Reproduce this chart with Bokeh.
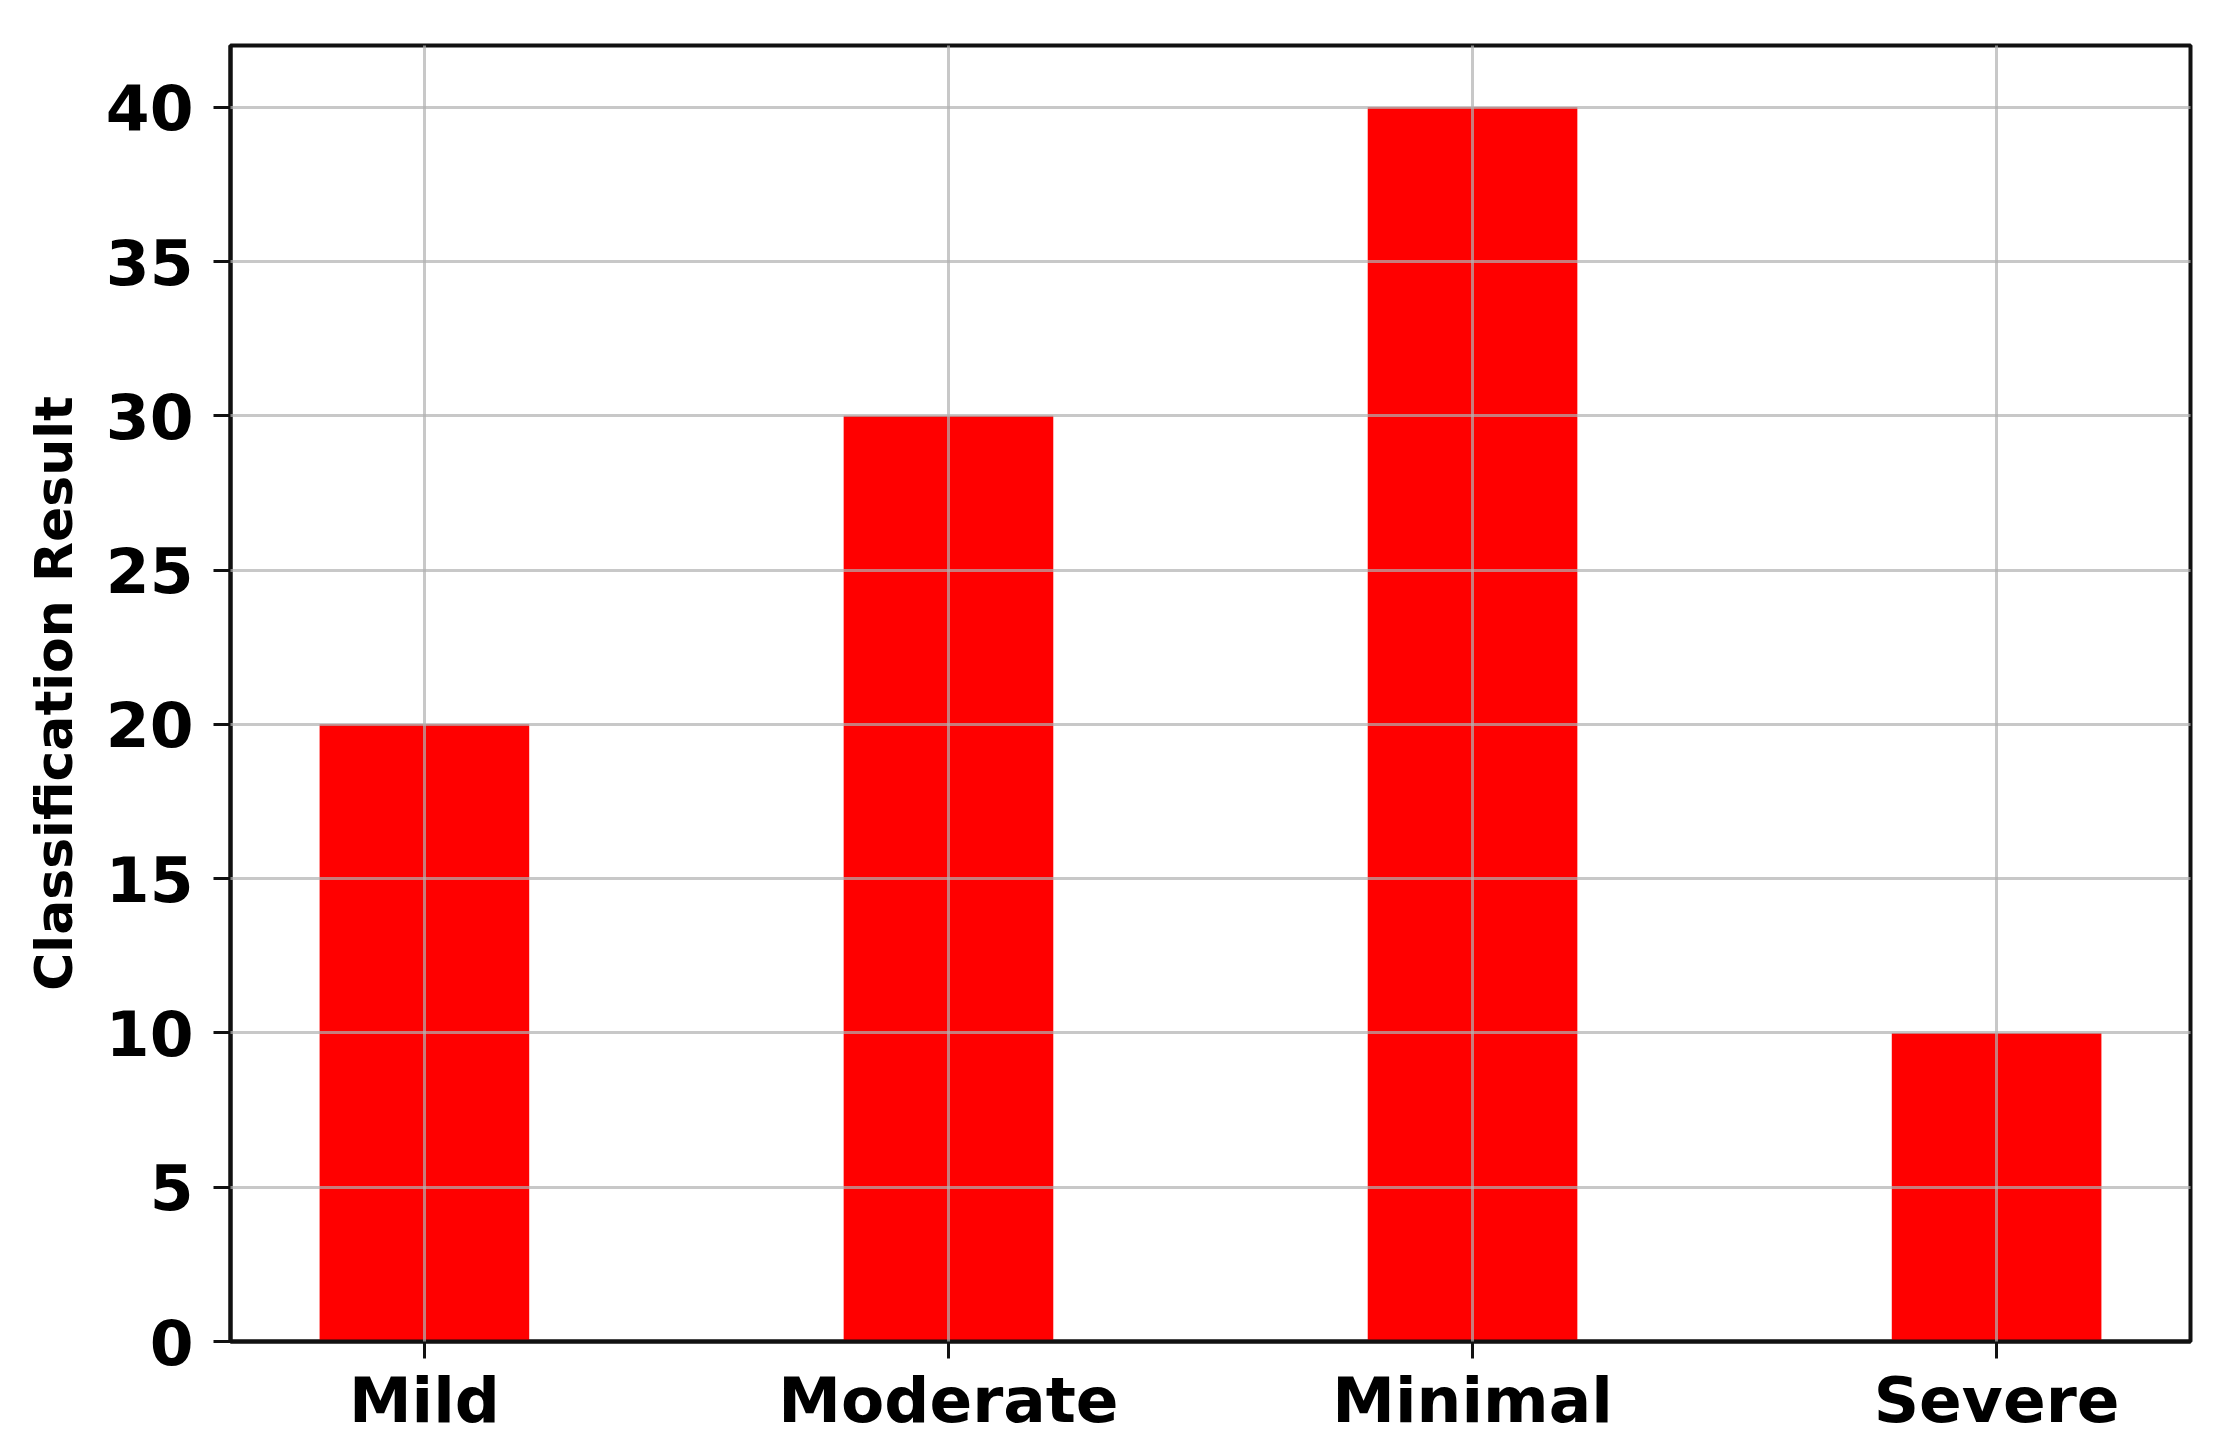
from bokeh.plotting import figure
from bokeh.models import Range1d, FixedTicker, ColumnDataSource
from bokeh.embed import file_html
from bokeh.resources import INLINE

categories = ["Mild", "Moderate", "Minimal", "Severe"]
values = [20, 30, 40, 10]
y_ticks = [0, 5, 10, 15, 20, 25, 30, 35, 40]

xpos = list(range(len(categories)))
src = ColumnDataSource(dict(x=xpos, top=values))

p = figure(width=2209, height=1439, output_backend="svg", toolbar_location=None,
           x_range=Range1d(-0.37, 3.37), y_range=Range1d(0, 42),
           min_border_left=230, min_border_right=19, min_border_top=45, min_border_bottom=60)

p.vbar(x="x", top="top", width=0.4, bottom=0, source=src,
       fill_color="#ff0000", line_color=None)

FONT = "DejaVu Sans"
p.xaxis.ticker = FixedTicker(ticks=xpos)
p.xaxis.major_label_overrides = {i: c for i, c in enumerate(categories)}
p.yaxis.ticker = FixedTicker(ticks=y_ticks)
p.yaxis.axis_label = "Classification Result"

for ax in (p.xaxis[0], p.yaxis[0]):
    ax.major_label_text_font = FONT
    ax.major_label_text_font_style = "bold"
    ax.major_label_text_font_size = "63px"
    ax.major_label_text_color = "black"
    ax.axis_line_color = "#111111"
    ax.axis_line_width = 4
    ax.major_tick_line_color = "#111111"
    ax.major_tick_line_width = 3
    ax.major_tick_out = 17
    ax.major_tick_in = 0
    ax.minor_tick_line_color = None

p.xaxis.major_label_standoff = 5
p.yaxis.major_label_standoff = 20
p.yaxis.axis_label_text_font = FONT
p.yaxis.axis_label_text_font_style = "bold"
p.yaxis.axis_label_text_font_size = "52px"
p.yaxis.axis_label_text_color = "black"
p.yaxis.axis_label_standoff = 19

p.outline_line_color = "#111111"
p.outline_line_width = 4
p.outline_line_alpha = 1

for g in (p.xgrid[0], p.ygrid[0]):
    g.grid_line_color = "#b0b0b0"
    g.grid_line_alpha = 0.7
    g.grid_line_width = 3
    g.level = "annotation"

p.background_fill_color = "white"
p.border_fill_color = "white"

open("out.html", "w").write(file_html(p, INLINE))
